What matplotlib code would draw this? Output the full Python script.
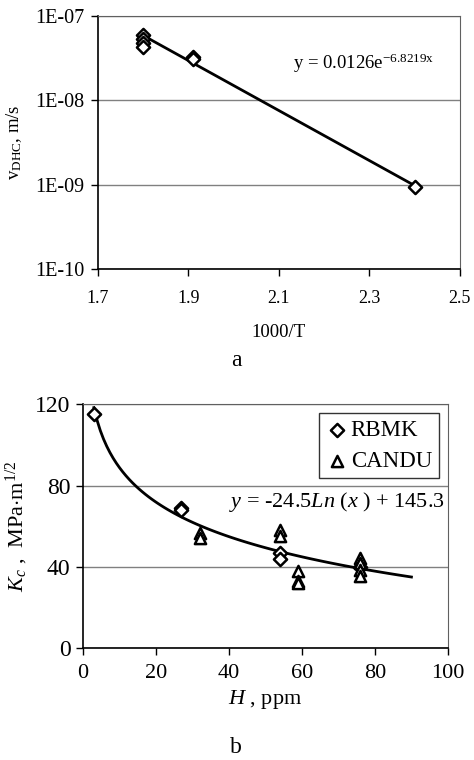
import matplotlib
matplotlib.use("Agg")
import matplotlib.pyplot as plt
import numpy as np

plt.rcParams['font.family'] = ['Liberation Serif', 'DejaVu Serif']
plt.rcParams['mathtext.fontset'] = 'custom'
plt.rcParams['mathtext.rm'] = 'Liberation Serif'
plt.rcParams['mathtext.it'] = 'Liberation Serif:italic'
plt.rcParams['axes.unicode_minus'] = False

# panel a: DHC velocity vs 1000/T
inv_t = [1.8, 1.8, 1.8, 1.8, 1.91, 1.91, 2.4]
v_dhc = [6.0e-8, 5.4e-8, 4.8e-8, 4.3e-8, 3.3e-8, 3.05e-8, 9.3e-10]
fit_a, fit_b = 0.0126, -6.8219
xticks_a = [1.7, 1.9, 2.1, 2.3, 2.5]
yticks_a = [1e-10, 1e-9, 1e-8, 1e-7]
ylabels_a = ['1E-10', '1E-09', '1E-08', '1E-07']

# panel b: fracture toughness vs hydrogen
h_rbmk = [3, 27, 27, 54, 54, 76]
k_rbmk = [115, 69, 68, 47, 44, 40]
h_candu = [32, 32, 54, 54, 59, 59, 59, 76, 76, 76, 76]
k_candu = [56.5, 54, 58, 55, 38, 33, 32, 44.5, 42, 38.5, 35.5]
log_a, log_b = -24.5, 145.3

fig = plt.figure(figsize=(4.74, 7.6), dpi=100)

# ---- a ----
ax1 = fig.add_axes([0.2068, 0.646, 0.7632, 0.333])
ax1.set_yscale('log')
xx = np.linspace(1.8, 2.4, 50)
ax1.plot(xx, fit_a * np.exp(fit_b * xx), color='black', lw=2, zorder=3)
ax1.scatter(inv_t, v_dhc, marker='D', s=45, facecolor='white', edgecolor='black',
            linewidths=1.8, zorder=4)
ax1.set_xlim(1.7, 2.5)
ax1.set_ylim(1e-10, 1e-7)
ax1.set_xticks(xticks_a)
ax1.set_xticklabels([str(t) for t in xticks_a])
ax1.set_yticks(yticks_a)
ax1.set_yticklabels(ylabels_a)
ax1.minorticks_off()
ax1.grid(axis='y', color='#808080', lw=1)
ax1.tick_params(axis='x', labelsize=13, direction='out', length=5, width=1, pad=10)
ax1.tick_params(axis='y', labelsize=14.5, direction='out', length=5, width=1, pad=5)
ax1.set_xlabel('1000/T', fontsize=13.5, labelpad=12)
ax1.set_ylabel(r'v$_{\rm DHC}$, m/s', fontsize=13.5, labelpad=8)
ax1.text(2.288, 2.77e-8, r'y = 0.0126e$^{\mathrm{{-}6.8219x}}$', fontsize=13.5,
         ha='center', va='center')
for s in ['left', 'bottom']:
    ax1.spines[s].set_linewidth(1.2)
for s in ['top', 'right']:
    ax1.spines[s].set_color('#606060')
ax1.set_axisbelow(True)
fig.text(0.498, 0.526, 'a', fontsize=17, ha='center', va='center')

# ---- b ----
ax2 = fig.add_axes([0.175, 0.147, 0.770, 0.321])
hh = np.linspace(3, 90, 100)
ax2.plot(hh, log_a * np.log(hh) + log_b, color='black', lw=2, zorder=3)
ax2.scatter(h_rbmk, k_rbmk, marker='D', s=45, facecolor='white', edgecolor='black',
            linewidths=1.8, zorder=4, label='RBMK')
ax2.scatter(h_candu, k_candu, marker='^', s=65, facecolor='white', edgecolor='black',
            linewidths=1.8, zorder=4, label='CANDU')
ax2.set_xlim(0, 100)
ax2.set_ylim(0, 120)
ax2.set_xticks([0, 20, 40, 60, 80, 100])
ax2.set_yticks([0, 40, 80, 120])
ax2.grid(axis='y', color='#808080', lw=1)
ax2.tick_params(axis='x', labelsize=16, direction='out', length=5, width=1, pad=6)
ax2.tick_params(axis='y', labelsize=17, direction='out', length=5, width=1, pad=4)
ax2.set_xlabel(r'$H$ , ppm', fontsize=16, labelpad=4)
ax2.set_ylabel(r'$K_c$ ,  MPa$\cdot$m$^{1/2}$', fontsize=16, labelpad=4)
ax2.text(69.5, 72, r'$y$ = -24.5$Ln$ ($x$ ) + 145.3', fontsize=16, ha='center', va='center')
leg = ax2.legend(loc='upper right', fontsize=16.5, frameon=True, fancybox=False,
                 edgecolor='black', handletextpad=0.1, borderpad=0.3,
                 handlelength=1.0, labelspacing=0.4, borderaxespad=0.4)
leg.get_frame().set_linewidth(1)
for s in ['left', 'bottom']:
    ax2.spines[s].set_linewidth(1.2)
for s in ['top', 'right']:
    ax2.spines[s].set_color('#606060')
ax2.set_axisbelow(True)
fig.text(0.498, 0.016, 'b', fontsize=17, ha='center', va='center')

fig.savefig('out.png', dpi=100, facecolor='white')
